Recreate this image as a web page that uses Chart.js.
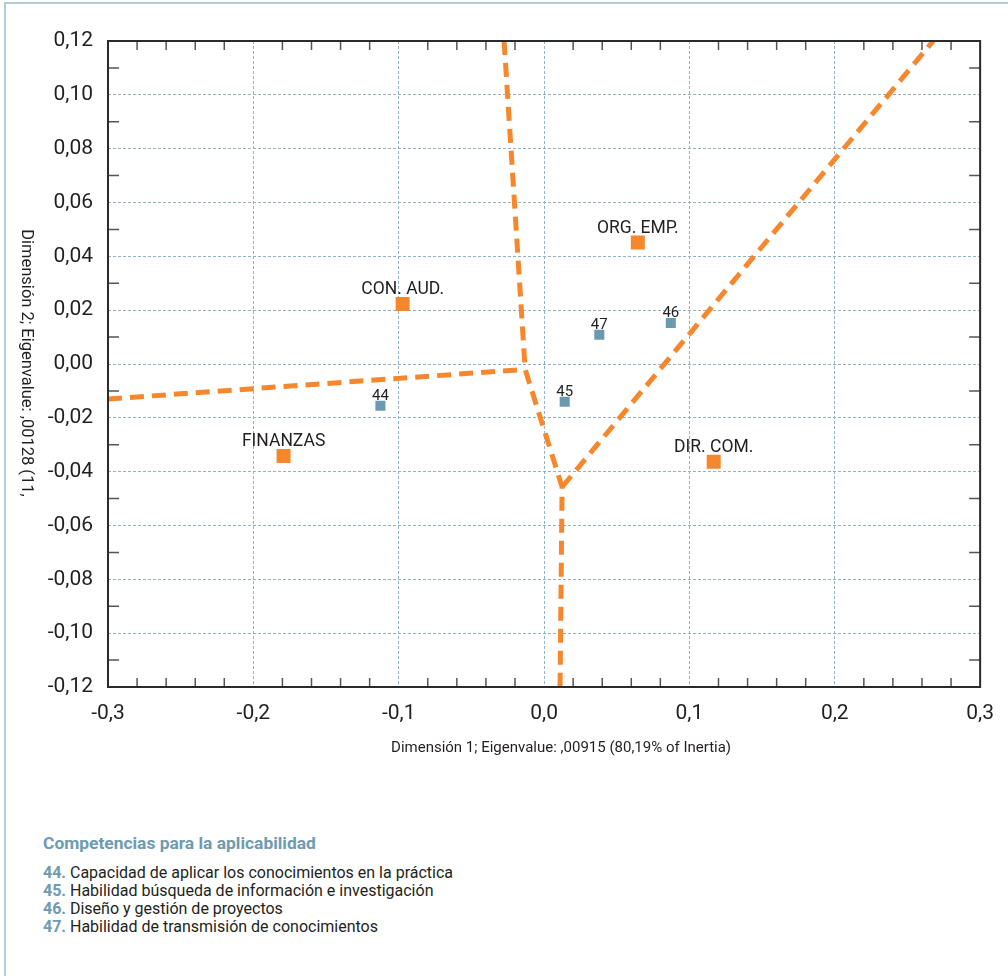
<!DOCTYPE html>
<html lang="es">
<head>
<meta charset="utf-8">
<title>Competencias para la aplicabilidad</title>
<script src="https://cdn.jsdelivr.net/npm/chart.js@4.4.1/dist/chart.umd.min.js"></script>
<style>
  html, body { margin: 0; padding: 0; background: #fff; width: 1008px; height: 976px; overflow: hidden; }
  body { font-family: Roboto, 'Open Sans', sans-serif; color: #231f20; }
  .frame { position: absolute; left: 4px; top: 2px; width: 1100px; height: 1100px;
           border-left: 2px solid #b2cdd9; border-top: 2px solid #b2cdd9; }
  #chart-wrap { position: absolute; left: 0; top: 0; width: 1008px; height: 780px; }
  .legend { position: absolute; left: 43px; top: 833px; }
  .legend h3 { margin: 0; font-size: 17.4px; font-weight: 700; color: #6e9bb1; line-height: 20px; }
  .legend ul { list-style: none; margin: 11px 0 0; padding: 0; font-size: 16px; line-height: 18px; }
  .legend b { color: #6e9bb1; font-weight: 700; }
</style>
</head>
<body>
<div class="frame"></div>
<div id="chart-wrap"><canvas id="chart" width="1008" height="780"></canvas></div>
<div class="legend">
  <h3>Competencias para la aplicabilidad</h3>
  <ul id="legend-list"></ul>
</div>
<script>
// ---- Data ----
const categories = ['ORG. EMP.', 'CON. AUD.', 'FINANZAS', 'DIR. COM.'];
const catX = [0.0645, -0.0973, -0.1792, 0.1167];
const catY = [0.0451, 0.0223, -0.0342, -0.0363];

const items = ['44', '45', '46', '47'];
const itemX = [-0.1126, 0.0142, 0.0872, 0.0380];
const itemY = [-0.0155, -0.0140, 0.0152, 0.0109];
const itemNames = [
  'Capacidad de aplicar los conocimientos en la práctica',
  'Habilidad búsqueda de información e investigación',
  'Diseño y gestión de proyectos',
  'Habilidad de transmisión de conocimientos'
];

// boundary lines (dashed)
const leftLineX = [-0.3, -0.0130];
const leftLineY = [-0.0130, -0.0020];
const midLineX = [-0.0275, -0.0130, 0.0124, 0.0110];
const midLineY = [0.12, -0.0020, -0.0457, -0.12];
const rightLineX = [0.0124, 0.2677];
const rightLineY = [-0.0457, 0.12];

const xTickLabels = ['-0,3', '-0,2', '-0,1', '0,0', '0,1', '0,2', '0,3'];
const yTickLabels = ['-0,12', '-0,10', '-0,08', '-0,06', '-0,04', '-0,02', '0,00',
                     '0,02', '0,04', '0,06', '0,08', '0,10', '0,12'];

const xTitle = 'Dimensión 1; Eigenvalue: ,00915 (80,19% of Inertia)';
const yTitle = 'Dimensión 2; Eigenvalue: ,00128 (11,';

// ---- Legend list below the chart ----
document.getElementById('legend-list').innerHTML = items.map((n, i) =>
  `<li><b>${n}.</b> ${itemNames[i]}</li>`).join('');

const ORANGE = '#f6872d';
const BLUE = '#6b9ab0';
const INK = '#231f20';
const FONT = 'Roboto, "Open Sans", sans-serif';

const toPoints = (xs, ys) => xs.map((x, i) => ({ x, y: ys[i] }));

// ---- Plugin: point labels, inner tick marks, frame, axis titles ----
const chartDecor = {
  id: 'chartDecor',
  afterDatasetsDraw(chart) {
    const ctx = chart.ctx;
    const drawLabels = (dsIndex, labels, size, gap) => {
      const meta = chart.getDatasetMeta(dsIndex);
      ctx.save();
      ctx.font = `${size}px ${FONT}`;
      ctx.fillStyle = INK;
      ctx.textAlign = 'center';
      ctx.textBaseline = 'alphabetic';
      meta.data.forEach((pt, i) => ctx.fillText(labels[i], pt.x, pt.y - gap));
      ctx.restore();
    };
    drawLabels(0, categories, 17.5, 10);
    drawLabels(1, items, 15, 6);
  },
  afterDraw(chart) {
    const { ctx, chartArea: a, scales: { x, y } } = chart;
    ctx.save();
    // minor ticks pointing inward
    ctx.strokeStyle = '#555';
    ctx.lineWidth = 1.5;
    ctx.beginPath();
    for (let i = -15; i <= 15; i++) {
      if (i % 5 === 0) continue;
      const px = x.getPixelForValue(i * 0.02);
      ctx.moveTo(px, a.top); ctx.lineTo(px, a.top + 9);
      ctx.moveTo(px, a.bottom); ctx.lineTo(px, a.bottom - 9);
    }
    for (let j = -11; j <= 11; j += 2) {
      const py = y.getPixelForValue(j * 0.01);
      ctx.moveTo(a.left, py); ctx.lineTo(a.left + 11, py);
      ctx.moveTo(a.right, py); ctx.lineTo(a.right - 11, py);
    }
    ctx.stroke();

    // frame
    ctx.strokeStyle = '#2b2b2b';
    ctx.lineWidth = 2;
    ctx.strokeRect(a.left, a.top, a.right - a.left, a.bottom - a.top);

    // axis titles
    ctx.fillStyle = INK;
    ctx.textAlign = 'center';
    ctx.textBaseline = 'middle';
    ctx.font = `15px ${FONT}`;
    ctx.fillText(xTitle, (a.left + a.right) / 2 + 17, 748);

    ctx.font = `16.5px ${FONT}`;
    ctx.translate(26, (a.top + a.bottom) / 2 - 1);
    ctx.rotate(Math.PI / 2);
    ctx.fillText(yTitle, 0, 0);
    ctx.restore();
  }
};

const gridStyle = { color: '#8fb3c5', lineWidth: 1, drawTicks: false };

new Chart(document.getElementById('chart').getContext('2d'), {
  type: 'scatter',
  data: {
    datasets: [
      {
        data: toPoints(catX, catY),
        pointStyle: 'rect', pointRadius: 9.9, pointHoverRadius: 9.9,
        backgroundColor: ORANGE, borderWidth: 0, order: 0
      },
      {
        data: toPoints(itemX, itemY),
        pointStyle: 'rect', pointRadius: 7.1, pointHoverRadius: 7.1,
        backgroundColor: BLUE, borderWidth: 0, order: 0
      },
      ...[[leftLineX, leftLineY], [midLineX, midLineY], [rightLineX, rightLineY]].map(([xs, ys]) => ({
        data: toPoints(xs, ys),
        showLine: true, borderColor: ORANGE, borderWidth: 5, borderDash: [14, 8],
        pointRadius: 0, pointHoverRadius: 0, fill: false, tension: 0, clip: 0, order: 2
      }))
    ]
  },
  options: {
    responsive: false,
    animation: false,
    devicePixelRatio: 1,
    layout: { padding: { left: 0, top: 41, right: 26, bottom: 0 } },
    plugins: { legend: { display: false }, tooltip: { enabled: false } },
    events: [],
    scales: {
      x: {
        type: 'linear', min: -0.3, max: 0.3,
        afterFit: s => { s.height = 780 - 687; },
        ticks: {
          stepSize: 0.1, padding: 14, color: INK, font: { family: FONT, size: 21 },
          callback: (v, i) => xTickLabels[i]
        },
        grid: gridStyle,
        border: { display: false, dash: [3, 2] }
      },
      y: {
        type: 'linear', min: -0.12, max: 0.12,
        afterFit: s => { s.width = 108; },
        ticks: {
          stepSize: 0.02, padding: 15, color: INK, font: { family: FONT, size: 21 },
          callback: (v, i) => yTickLabels[i]
        },
        grid: gridStyle,
        border: { display: false, dash: [3, 2] }
      }
    }
  },
  plugins: [chartDecor]
});
</script>
</body>
</html>
